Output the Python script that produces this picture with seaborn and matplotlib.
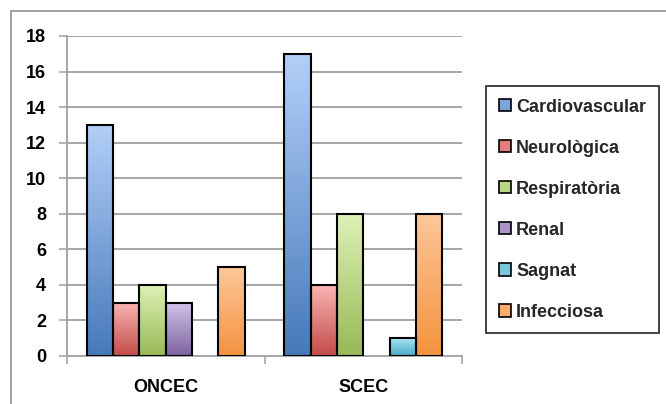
import numpy as np
import pandas as pd
import matplotlib
matplotlib.use("Agg")
import matplotlib.pyplot as plt
from matplotlib.colors import LinearSegmentedColormap
from matplotlib.lines import Line2D
from matplotlib.patches import Patch
from matplotlib.font_manager import FontProperties
import seaborn as sns

# Data
groups = ["ONCEC", "SCEC"]
causes = ["Cardiovascular", "Neurològica", "Respiratòria", "Renal", "Sagnat", "Infecciosa"]
cardiovascular = [13, 17]
neurologica = [3, 4]
respiratoria = [4, 8]
renal = [3, 0]
sagnat = [0, 1]
infecciosa = [5, 8]
yticks = [0, 2, 4, 6, 8, 10, 12, 14, 16, 18]

# Gradient colours per cause: (bottom, top)
grad = {
    "Cardiovascular": ("#4679b9", "#b3cff8"),
    "Neurològica": ("#c24c49", "#f9b5b3"),
    "Respiratòria": ("#98b955", "#def2b6"),
    "Renal": ("#7d62a0", "#d2c5ea"),
    "Sagnat": ("#47a9c4", "#a9e5f5"),
    "Infecciosa": ("#f49340", "#fdc79a"),
}
mid = {k: LinearSegmentedColormap.from_list(k, v)(0.5) for k, v in grad.items()}

values = [cardiovascular, neurologica, respiratoria, renal, sagnat, infecciosa]
df = pd.DataFrame(
    [(g, c, v[i]) for c, v in zip(causes, values) for i, g in enumerate(groups)],
    columns=["grup", "causa", "n"],
)

sns.set_theme(style="white")
plt.rcParams["font.family"] = ["Liberation Sans", "DejaVu Sans"]

fp = FontProperties(family="Liberation Sans", weight="bold", size=13)

W, H = 666, 404
fig = plt.figure(figsize=(W / 100, H / 100), dpi=100)
ax = fig.add_axes([67 / W, 48 / H, (462 - 67) / W, (356 - 36) / H])

sns.barplot(data=df, x="grup", y="n", hue="causa", order=groups, hue_order=causes,
            palette=mid, width=0.8, gap=0, legend=False, ax=ax, saturation=1)

# Gradient fill inside each bar
ramp = np.linspace(0, 1, 256).reshape(-1, 1)
n_groups = len(groups)
for k, patch in enumerate(ax.patches):
    cause = causes[k // n_groups]
    x0, y0 = patch.get_x(), patch.get_y()
    w, h = patch.get_width(), patch.get_height()
    if h <= 0:
        patch.set_visible(False)
        continue
    cmap = LinearSegmentedColormap.from_list(cause, grad[cause])
    im = ax.imshow(ramp, cmap=cmap, origin="lower", aspect="auto",
                   extent=[x0, x0 + w, y0, y0 + h], zorder=2)
    im.set_clip_path(patch)
    patch.set_facecolor("none")
    patch.set_edgecolor("black")
    patch.set_linewidth(1.5)
    patch.set_zorder(3)

ax.set_xlim(-0.5, 1.5)
ax.set_ylim(0, 18)
ax.set_yticks(yticks)
ax.set_yticklabels([str(t) for t in yticks])
ax.set_xlabel("")
ax.set_ylabel("")

grid_c = "#a6a6a6"
ax.grid(False)
for t in yticks[1:]:
    ax.axhline(t, color=grid_c, lw=1.4, zorder=1)
ax.set_axisbelow(True)

for s in ["top", "right"]:
    ax.spines[s].set_visible(False)
for s in ["left", "bottom"]:
    ax.spines[s].set_color(grid_c)
    ax.spines[s].set_linewidth(1.4)

ax.tick_params(axis="y", which="major", direction="out", length=5.5, width=1.2,
               color=grid_c, pad=9.5, left=True)
ax.set_xticks([-0.5, 0.5, 1.5], minor=True)
ax.tick_params(axis="x", which="minor", direction="out", length=5.5, width=1.2,
               color=grid_c, bottom=True)
ax.tick_params(axis="x", which="major", length=0, pad=16.5)
for lbl in ax.get_xticklabels() + ax.get_yticklabels():
    lbl.set_fontproperties(fp)
    lbl.set_color("black")

# Legend
handles = [Patch(facecolor=mid[c], edgecolor="black", linewidth=1.2, label=c) for c in causes]
leg = fig.legend(handles=handles, loc="upper left",
                 bbox_to_anchor=(486 / W, 1 - 86 / H), bbox_transform=fig.transFigure,
                 frameon=True, fancybox=False, shadow=False, prop=fp,
                 handlelength=0.67, handleheight=0.67, handletextpad=0.3,
                 labelspacing=1.33, borderpad=0.7, borderaxespad=0)
leg.get_frame().set_edgecolor("black")
leg.get_frame().set_linewidth(1.3)

# Outer chart frame (top and left edges)
fig.add_artist(Line2D([11 / W, 11 / W], [0, 1 - 11 / H], transform=fig.transFigure,
                      color="#a0a0a0", lw=1.4))
fig.add_artist(Line2D([11 / W, 1], [1 - 11 / H, 1 - 11 / H], transform=fig.transFigure,
                      color="#a0a0a0", lw=1.4))

fig.savefig("out.png", dpi=100, facecolor="white")
